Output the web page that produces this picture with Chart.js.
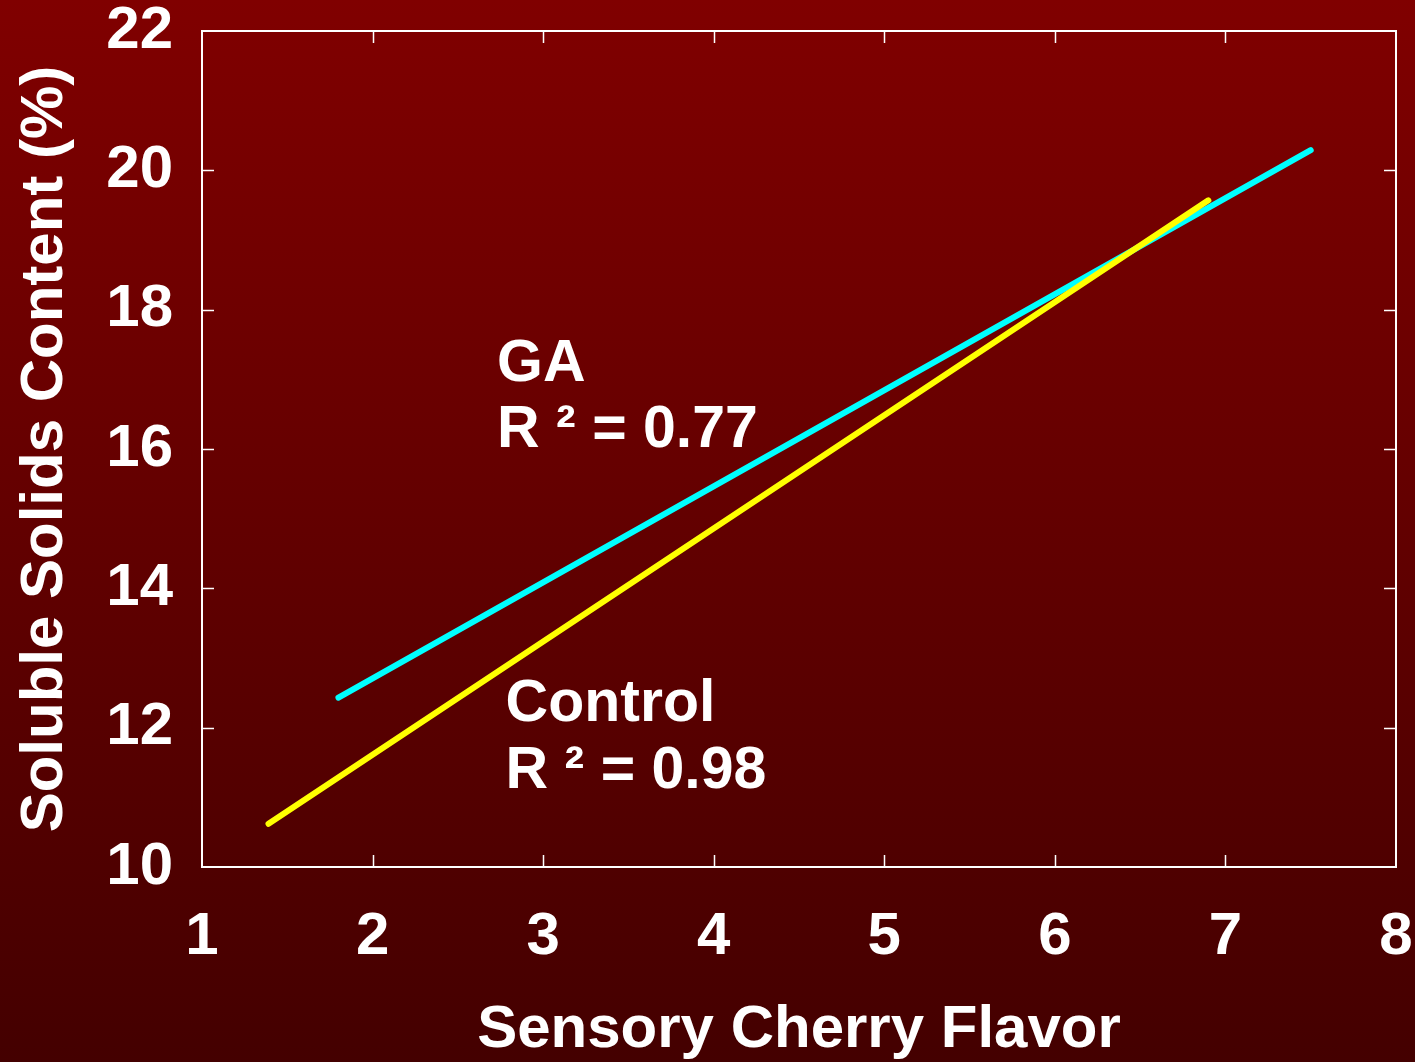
<!DOCTYPE html>
<html>
<head>
<meta charset="utf-8">
<script src="https://cdn.jsdelivr.net/npm/chart.js@4"></script>
<style>
  html, body { margin:0; padding:0; }
  body { width:1415px; height:1062px; background:linear-gradient(#800000, #440000); overflow:hidden; }
  #wrap { position:relative; width:1415px; height:1062px; }
</style>
</head>
<body>
<div id="wrap"><canvas id="chart"></canvas></div>
<script>
// fitted regression lines, endpoints
const gaX = [1.8, 7.5];
const gaY = [12.43, 20.29];
const controlX = [1.39, 6.9];
const controlY = [10.62, 19.57];
// annotation labels and where they sit (data units: left x, top y)
const labels = [
  { text:'GA', x:2.73, y:17.5 },
  { text:'R \u00b2 = 0.77', x:2.73, y:16.55 },
  { text:'Control', x:2.78, y:12.62 },
  { text:'R \u00b2 = 0.98', x:2.78, y:11.66 }
];
const xTicks = [1,2,3,4,5,6,7,8];
const yTicks = [10,12,14,16,18,20,22];

const toPts = (xs, ys) => xs.map((x,i) => ({x, y:ys[i]}));
const FONT = '"Liberation Sans", Arial, sans-serif';

// white frame with inward ticks on all four sides + text labels
const framePlugin = {
  id:'frame',
  afterDraw(chart){
    const {ctx, chartArea:a, scales:{x, y}} = chart;
    ctx.save();
    ctx.strokeStyle = '#fff';
    ctx.lineWidth = 2;
    ctx.strokeRect(a.left, a.top, a.right-a.left, a.bottom-a.top);
    ctx.beginPath();
    for(const v of xTicks.slice(1,-1)){
      const px = Math.round(x.getPixelForValue(v)) + 0.5;
      ctx.moveTo(px, a.bottom); ctx.lineTo(px, a.bottom-12);
      ctx.moveTo(px, a.top); ctx.lineTo(px, a.top+12);
    }
    for(const v of yTicks.slice(1,-1)){
      const py = Math.round(y.getPixelForValue(v)) + 0.5;
      ctx.moveTo(a.left, py); ctx.lineTo(a.left+12, py);
      ctx.moveTo(a.right, py); ctx.lineTo(a.right-12, py);
    }
    ctx.lineWidth = 1.5;
    ctx.stroke();
    ctx.fillStyle = '#fff';
    ctx.font = 'bold 59px ' + FONT;
    ctx.textBaseline = 'top';
    ctx.textAlign = 'left';
    for(const l of labels){
      ctx.fillText(l.text, x.getPixelForValue(l.x), y.getPixelForValue(l.y) - 9);
    }
    ctx.restore();
  }
};

new Chart(document.getElementById('chart'), {
  type:'scatter',
  data:{
    datasets:[
      { label:'Control', data:toPts(controlX, controlY), showLine:true, borderColor:'#ffff00', borderWidth:6, borderCapStyle:'round', pointRadius:0 },
      { label:'GA', data:toPts(gaX, gaY), showLine:true, borderColor:'#00ffff', borderWidth:6, borderCapStyle:'round', pointRadius:0 }
    ]
  },
  options:{
    responsive:true,
    maintainAspectRatio:false,
    animation:false,
    layout:{ padding:{ top:31, right:19, left:0, bottom:0 } },
    plugins:{ legend:{ display:false }, tooltip:{ enabled:false } },
    scales:{
      x:{
        type:'linear', min:1, max:8,
        afterFit(s){ s.height = 195; s.paddingLeft = 0; s.paddingRight = 0; },
        grid:{ display:false }, border:{ display:false },
        ticks:{ stepSize:1, color:'#fff', padding:26, font:{ family:FONT, size:60, weight:'bold' }, maxRotation:0 },
        title:{ display:true, text:'Sensory Cherry Flavor', color:'#fff', padding:{ top:0, bottom:2 }, font:{ family:FONT, size:60, weight:'bold', lineHeight:1 } }
      },
      y:{
        type:'linear', min:10, max:22,
        afterFit(s){ s.width = 202; s.paddingTop = 0; s.paddingBottom = 0; },
        grid:{ display:false }, border:{ display:false },
        ticks:{ stepSize:2, color:'#fff', padding:21, font:{ family:FONT, size:60, weight:'bold' } },
        title:{ display:true, text:'Soluble Solids Content (%)', color:'#fff', padding:{ top:15, bottom:0 }, font:{ family:FONT, size:60, weight:'bold', lineHeight:1 } }
      }
    }
  },
  plugins:[framePlugin]
});
</script>
</body>
</html>
